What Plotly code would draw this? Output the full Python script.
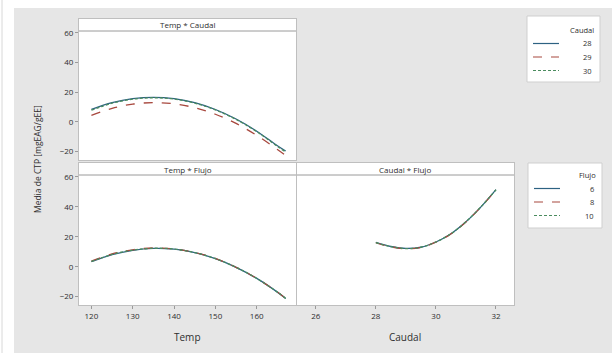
import plotly.graph_objects as go

# ---- data -------------------------------------------------------------
temp = [120, 125, 130, 135, 140, 145, 150, 155, 160, 165, 167]
caudal_levels = [28, 29, 30]
ctp_temp_caudal = [
    [8.4, 13.0, 15.7, 16.6, 15.7, 13.0, 8.4, 2.0, -6.2, -16.0, -19.5],   # Caudal 28
    [4.4, 9.2, 12.0, 13.0, 12.2, 9.6, 5.2, -1.0, -9.0, -18.5, -22.5],    # Caudal 29
    [7.9, 12.6, 15.3, 16.3, 15.4, 12.7, 8.1, 1.7, -6.5, -16.4, -20.2],   # Caudal 30
]

flujo_levels = [6, 8, 10]
ctp_temp_flujo = [
    [3.3, 8.0, 10.9, 12.2, 11.7, 9.4, 5.4, -0.4, -7.8, -17.0, -21.2],    # Flujo 6
    [3.8, 8.5, 11.3, 12.5, 11.9, 9.5, 5.5, -0.4, -7.8, -17.0, -21.2],    # Flujo 8
    [3.5, 8.2, 11.1, 12.3, 11.8, 9.4, 5.4, -0.4, -7.8, -17.0, -21.2],    # Flujo 10
]

caudal = [28, 28.5, 29, 29.5, 30, 30.5, 31, 31.5, 32]
ctp_caudal_flujo = [
    [16.2, 13.5, 12.2, 13.0, 16.5, 22.0, 30.0, 40.0, 51.5],   # Flujo 6
    [16.0, 13.3, 12.0, 12.9, 16.4, 21.9, 29.9, 39.9, 51.3],   # Flujo 8
    [16.1, 13.4, 12.1, 13.0, 16.5, 22.0, 30.0, 40.0, 51.4],   # Flujo 10
]

temp_ticks = [120, 130, 140, 150, 160]
caudal_ticks = [26, 28, 30, 32]
ctp_ticks = [-20, 0, 20, 40, 60]

# ---- styling ----------------------------------------------------------
COLORS = ["#2d6282", "#a8483e", "#4a8c5e"]
DASHES = ["solid", "dash", "3px,2px"]
FONT = "Open Sans, Liberation Sans, sans-serif"
TXT = "#2e2e2e"
FRAME = "#bfbfbf"
BG = "#e6e6e6"

W, H = 612, 353
ML, MR, MT, MB = 79, 98, 19, 48
PW, PH = W - ML - MR, H - MT - MB


def px(x):
    return (x - ML) / PW


def py(y):
    return (H - MB - y) / PH


fig = go.Figure()

# Temp * Caudal (top left)
for i, lvl in enumerate(caudal_levels):
    fig.add_trace(go.Scatter(
        x=temp, y=ctp_temp_caudal[i], mode="lines", name=str(lvl),
        line=dict(color=COLORS[i], dash=DASHES[i], width=1.3, shape="spline"),
        xaxis="x", yaxis="y", showlegend=False))

# Temp * Flujo (bottom left)
for i, lvl in enumerate(flujo_levels):
    fig.add_trace(go.Scatter(
        x=temp, y=ctp_temp_flujo[i], mode="lines", name=str(lvl),
        line=dict(color=COLORS[i], dash=DASHES[i], width=1.3, shape="spline"),
        xaxis="x2", yaxis="y2", showlegend=False))

# Caudal * Flujo (bottom right)
for i, lvl in enumerate(flujo_levels):
    fig.add_trace(go.Scatter(
        x=caudal, y=ctp_caudal_flujo[i], mode="lines", name=str(lvl),
        line=dict(color=COLORS[i], dash=DASHES[i], width=1.3, shape="spline"),
        xaxis="x3", yaxis="y3", showlegend=False))

yrange = [-25.6, 69.3]
xl_dom = [0, px(296)]
xr_dom = [px(296) + 0.002, 1]
top_dom = [py(160), 1]
bot_dom = [0, py(163)]

axis_common = dict(showgrid=False, zeroline=False, showline=True, mirror=True,
                   linecolor=FRAME, linewidth=1, ticks="outside", ticklen=3,
                   tickcolor="#9a9a9a", tickfont=dict(family=FONT, size=8, color=TXT))
axis_noticks = {k: v for k, v in axis_common.items() if k != "ticks"}

fig.update_layout(
    width=W, height=H,
    margin=dict(l=ML, r=MR, t=MT, b=MB),
    paper_bgcolor=BG, plot_bgcolor="white",
    xaxis=dict(domain=xl_dom, anchor="y", range=[117, 169.5], tickvals=temp_ticks,
               showticklabels=False, ticks="", **axis_noticks),
    yaxis=dict(domain=top_dom, anchor="x", range=yrange, tickvals=ctp_ticks, **axis_common),
    xaxis2=dict(domain=xl_dom, anchor="y2", range=[117, 169.5], tickvals=temp_ticks, **axis_common),
    yaxis2=dict(domain=bot_dom, anchor="x2", range=yrange, tickvals=ctp_ticks, **axis_common),
    xaxis3=dict(domain=xr_dom, anchor="y3", range=[25.37, 32.6], tickvals=caudal_ticks, **axis_common),
    yaxis3=dict(domain=bot_dom, anchor="x3", range=yrange, tickvals=ctp_ticks,
                showticklabels=False, ticks="", **axis_noticks),
)

shapes = []
annotations = []

# white border of the canvas (left band and top band)
shapes.append(dict(type="rect", xref="paper", yref="paper", x0=px(0), x1=px(14), y0=py(H), y1=py(0),
                   fillcolor="white", line=dict(width=0), layer="below"))
shapes.append(dict(type="rect", xref="paper", yref="paper", x0=px(0), x1=px(W), y0=py(8), y1=py(0),
                   fillcolor="white", line=dict(width=0), layer="below"))
shapes.append(dict(type="line", xref="paper", yref="paper", x0=px(2), x1=px(2), y0=py(H), y1=py(0),
                   line=dict(color="#d8d8d8", width=1)))

# panel strips
strips = [
    ("Temp * Caudal", xl_dom, 31, 25),
    ("Temp * Flujo", xl_dom, 175, 169),
    ("Caudal * Flujo", xr_dom, 175, 169),
]
for label, dom, line_y, text_y in strips:
    shapes.append(dict(type="line", xref="paper", yref="paper", x0=dom[0], x1=dom[1],
                       y0=py(line_y), y1=py(line_y), line=dict(color="#9a9a9a", width=1)))
    annotations.append(dict(text=label, xref="paper", yref="paper", x=(dom[0] + dom[1]) / 2,
                            y=py(text_y), showarrow=False, xanchor="center", yanchor="middle",
                            font=dict(family=FONT, size=8, color=TXT)))

# axis titles
annotations.append(dict(text="Media de CTP [mgEAG/gEE]", xref="paper", yref="paper",
                        x=px(37), y=py(159), textangle=-90, showarrow=False,
                        xanchor="center", yanchor="middle",
                        font=dict(family=FONT, size=8.5, color=TXT)))
annotations.append(dict(text="Temp", xref="paper", yref="paper", x=px(187), y=py(337),
                        showarrow=False, xanchor="center", yanchor="middle",
                        font=dict(family=FONT, size=10, color=TXT)))
annotations.append(dict(text="Caudal", xref="paper", yref="paper", x=px(405), y=py(337),
                        showarrow=False, xanchor="center", yanchor="middle",
                        font=dict(family=FONT, size=10, color=TXT)))

# legend boxes
legends = [
    ("Caudal", caudal_levels, 527, 600, 16, 82, 30),
    ("Flujo", flujo_levels, 528, 602, 163, 228, 175),
]
for title, levels, x0, x1, y0, y1, ty in legends:
    shapes.append(dict(type="rect", xref="paper", yref="paper", x0=px(x0), x1=px(x1),
                       y0=py(y1), y1=py(y0), fillcolor="white",
                       line=dict(color="#cfcfcf", width=1)))
    annotations.append(dict(text=title, xref="paper", yref="paper", x=px(x1 - 4), y=py(ty),
                            showarrow=False, xanchor="right", yanchor="middle",
                            font=dict(family=FONT, size=7.5, color=TXT)))
    for i, lvl in enumerate(levels):
        ly = ty + 13.5 * (i + 1)
        shapes.append(dict(type="line", xref="paper", yref="paper", x0=px(x0 + 6), x1=px(x0 + 32),
                           y0=py(ly), y1=py(ly),
                           line=dict(color=COLORS[i], dash=DASHES[i], width=1.2)))
        annotations.append(dict(text=str(lvl), xref="paper", yref="paper", x=px(x1 - 6), y=py(ly),
                                showarrow=False, xanchor="right", yanchor="middle",
                                font=dict(family=FONT, size=7.5, color=TXT)))

fig.update_layout(shapes=shapes, annotations=annotations)

fig.write_html("out.html")
